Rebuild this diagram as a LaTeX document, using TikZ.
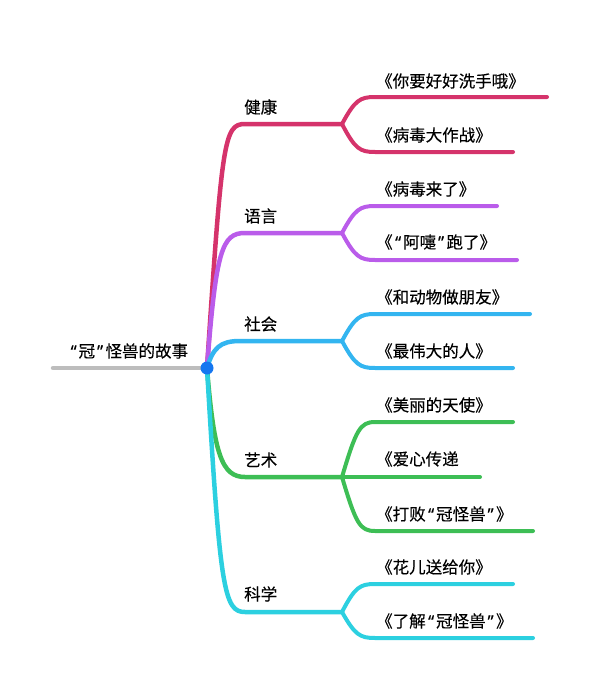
\documentclass[tikz,border=0pt]{standalone}
\usepackage{fontspec}
\setmainfont{Noto Sans CJK SC}[FakeBold=0.3]
\newfontfamily\latq{Noto Sans}[FakeBold=0.3]
\newcommand{\oq}{\hspace{2.5pt}{\latq “}\hspace{2pt}}
\newcommand{\cq}{\hspace{2pt}{\latq ”}\hspace{2.5pt}}
\begin{document}
\begin{tikzpicture}[x=1pt,y=-1pt,line cap=round,line join=round]
\definecolor{cHealth}{HTML}{D5336B}
\definecolor{cLang}{HTML}{BA5CEA}
\definecolor{cSoc}{HTML}{33B5F0}
\definecolor{cArt}{HTML}{3DBE55}
\definecolor{cSci}{HTML}{2CD0E0}
\definecolor{cRoot}{HTML}{BDBDBD}
\definecolor{cDot}{HTML}{1577F0}
\tikzset{
  lbl/.style={anchor=west,inner sep=0pt,font=\fontsize{16.5}{17}\selectfont,text=black},
  trunk/.style={line width=4.5pt},
  twig/.style={line width=4pt},
}
\useasboundingbox (0,0) rectangle (600,693);
% coordinates
\coordinate (rootL) at (53,368);
\coordinate (hub) at (207,368);
\coordinate (hF) at (342,124);
\coordinate (lF) at (342,233);
\coordinate (sF) at (342,341);
\coordinate (aF) at (342,477);
\coordinate (kF) at (342,612);
% branch ends
\coordinate (h1) at (547,97);  \coordinate (h2) at (513,152);
\coordinate (l1) at (497,206); \coordinate (l2) at (517,260);
\coordinate (s1) at (530,314); \coordinate (s2) at (513,368);
\coordinate (a1) at (513,422); \coordinate (a2) at (480,477); \coordinate (a3) at (533,531);
\coordinate (k1) at (513,584); \coordinate (k2) at (533,638);
% root
\draw[cRoot,line width=4.5pt] (rootL) -- (hub);
% trunks
\draw[cHealth,trunk] (hub) .. controls (222,140) and (224,124) .. (245,124) -- (hF);
\draw[cLang,trunk] (hub) .. controls (216,250) and (222,233) .. (245,233) -- (lF);
\draw[cSoc,trunk] (hub) .. controls (213,348) and (220,341) .. (240,341) -- (sF);
\draw[cArt,trunk] (hub) .. controls (214,455) and (222,477) .. (245,477) -- (aF);
\draw[cSci,trunk] (hub) .. controls (220,590) and (224,612) .. (245,612) -- (kF);
% forks
\draw[cHealth,twig] (hF) .. controls (355,100) and (360,97) .. (375,97) -- (h1);
\draw[cHealth,twig] (hF) .. controls (355,149) and (360,152) .. (375,152) -- (h2);
\draw[cLang,twig] (lF) .. controls (355,209) and (360,206) .. (375,206) -- (l1);
\draw[cLang,twig] (lF) .. controls (355,257) and (360,260) .. (375,260) -- (l2);
\draw[cSoc,twig] (sF) .. controls (355,317) and (360,314) .. (375,314) -- (s1);
\draw[cSoc,twig] (sF) .. controls (355,365) and (360,368) .. (375,368) -- (s2);
\draw[cArt,twig] (aF) .. controls (356,430) and (360,422) .. (375,422) -- (a1);
\draw[cArt,twig] (aF) -- (a2);
\draw[cArt,twig] (aF) .. controls (356,524) and (360,531) .. (375,531) -- (a3);
\draw[cSci,twig] (kF) .. controls (355,587) and (360,584) .. (375,584) -- (k1);
\draw[cSci,twig] (kF) .. controls (355,635) and (360,638) .. (375,638) -- (k2);
% dot
\fill[cDot] (hub) circle (6.5);
% labels
\node[lbl] (root) at (68,351) {\oq 冠\cq 怪兽的故事};
\node[lbl] (health) at (244,107) {健康};
\node[lbl] (lang) at (244,216) {语言};
\node[lbl] (soc) at (244,324) {社会};
\node[lbl] (art) at (244,460) {艺术};
\node[lbl] (sci) at (244,594) {科学};
\node[lbl] (t1) at (376,81) {《你要好好洗手哦》};
\node[lbl] (t2) at (376,135) {《病毒大作战》};
\node[lbl] (t3) at (376,189) {《病毒来了》};
\node[lbl] (t4) at (376,242) {《\oq 阿嚏\cq 跑了》};
\node[lbl] (t5) at (376,297) {《和动物做朋友》};
\node[lbl] (t6) at (376,351) {《最伟大的人》};
\node[lbl] (t7) at (376,405) {《美丽的天使》};
\node[lbl] (t8) at (376,459) {《爱心传递};
\node[lbl] (t9) at (376,514) {《打败\oq 冠怪兽\cq》};
\node[lbl] (t10) at (376,567) {《花儿送给你》};
\node[lbl] (t11) at (376,621) {《了解\oq 冠怪兽\cq》};
\end{tikzpicture}
\end{document}
